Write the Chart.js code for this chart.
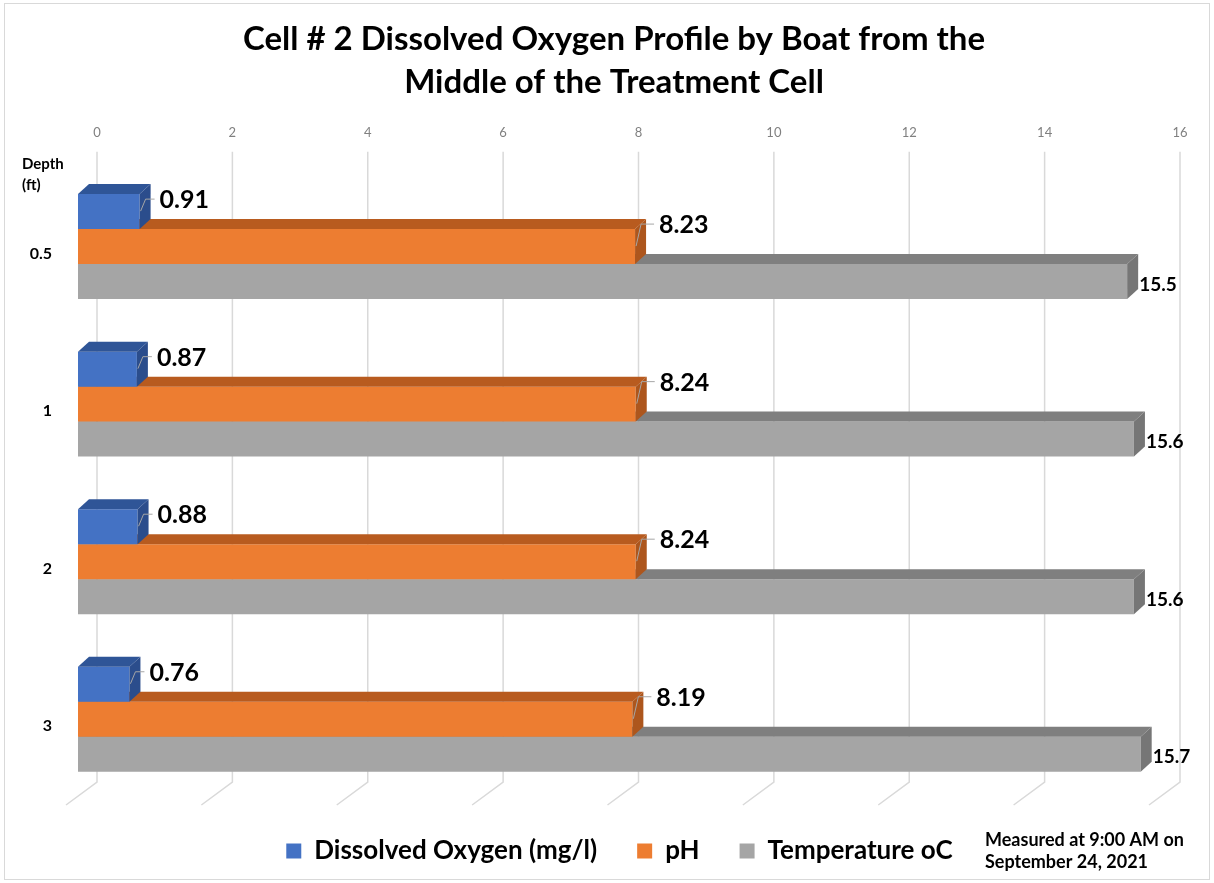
<!DOCTYPE html>
<html lang="en">
<head>
<meta charset="UTF-8">
<title>Cell # 2 Dissolved Oxygen Profile</title>
<script src="https://cdn.jsdelivr.net/npm/chart.js"></script>
<style>
  body { margin: 0; background: #fff; }
  #wrap { width: 1214px; height: 883px; }
</style>
</head>
<body>
<div id="wrap"><canvas id="chart" width="1214" height="883"></canvas></div>
<script>
// data
const depths = ['0.5', '1', '2', '3'];
const dissolvedOxygen = [0.91, 0.87, 0.88, 0.76];
const phValues = [8.23, 8.24, 8.24, 8.19];
const temperature = [15.5, 15.6, 15.6, 15.7];
const xTicks = [0, 2, 4, 6, 8, 10, 12, 14, 16];

const titleLines = ['Cell # 2 Dissolved Oxygen Profile by Boat from the', 'Middle of the Treatment Cell'];
const depthLabel = ['Depth', '(ft)'];
const noteLines = ['Measured at 9:00 AM on', 'September 24, 2021'];

const FONT = 'Lato, "Open Sans", sans-serif';
const D3 = { dx: 11, dy: -10 };   // depth of the 3d bars
const WALL = 19;                   // back wall gridlines sit this far right of the bars

// extra faces of the 3d bars
const bar3d = {
    id: 'bar3d',
    afterDatasetDraw(chart, args) {
        const ds = chart.data.datasets[args.index];
        const ctx = chart.ctx;
        args.meta.data.forEach(bar => {
            const { x, y, base, height } = bar.getProps(['x', 'y', 'base', 'height'], true);
            const top = y - height / 2, bot = y + height / 2;
            ctx.save();
            ctx.fillStyle = ds.topColor;
            ctx.beginPath();
            ctx.moveTo(base, top);
            ctx.lineTo(base + D3.dx, top + D3.dy);
            ctx.lineTo(x + D3.dx, top + D3.dy);
            ctx.lineTo(x, top);
            ctx.closePath();
            ctx.fill();
            ctx.fillStyle = ds.sideColor;
            ctx.beginPath();
            ctx.moveTo(x, top);
            ctx.lineTo(x + D3.dx, top + D3.dy);
            ctx.lineTo(x + D3.dx, bot + D3.dy);
            ctx.lineTo(x, bot);
            ctx.closePath();
            ctx.fill();
            ctx.restore();
        });
    }
};

// gridlines on the back wall + floor
const wallGrid = {
    id: 'wallGrid',
    beforeDatasetsDraw(chart) {
        const { ctx, chartArea, scales } = chart;
        ctx.save();
        ctx.strokeStyle = '#d9d9d9';
        ctx.lineWidth = 1.5;
        scales.x.ticks.forEach(t => {
            const px = scales.x.getPixelForValue(t.value) + WALL;
            ctx.beginPath();
            ctx.moveTo(px, chartArea.top - 16);
            ctx.lineTo(px, chartArea.bottom - 16);
            ctx.lineTo(px - 31, chartArea.bottom + 7);
            ctx.stroke();
        });
        ctx.restore();
    }
};

// value labels, depth label, note and outer border
const extras = {
    id: 'extras',
    afterDatasetsDraw(chart) {
        const ctx = chart.ctx;
        ctx.save();
        chart.data.datasets.forEach((ds, i) => {
            const meta = chart.getDatasetMeta(i);
            meta.data.forEach((bar, j) => {
                const { x, y, height } = bar.getProps(['x', 'y', 'height'], true);
                const top = y - height / 2;
                const txt = String(ds.data[j]);
                ctx.fillStyle = '#000';
                ctx.textBaseline = 'middle';
                ctx.textAlign = 'left';
                if (ds.leader) {
                    const ly = top + ds.labelDy;
                    const lx = x + ds.labelDx;
                    ctx.strokeStyle = '#a6a6a6';
                    ctx.lineWidth = 1;
                    ctx.beginPath();
                    ctx.moveTo(x + 1, top + 17);
                    ctx.lineTo(x + 6, ly);
                    ctx.lineTo(lx - 5, ly);
                    ctx.stroke();
                    ctx.font = 'bold 25px ' + FONT;
                    ctx.fillText(txt, lx, ly + 1);
                } else {
                    ctx.font = 'bold 19px ' + FONT;
                    ctx.fillText(txt, x + D3.dx + 1, y + 3);
                }
            });
        });
        ctx.restore();
    },
    afterDraw(chart) {
        const ctx = chart.ctx;
        ctx.save();
        ctx.fillStyle = '#000';
        ctx.textAlign = 'left';
        ctx.textBaseline = 'middle';
        ctx.font = 'bold 15px ' + FONT;
        ctx.fillText(depthLabel[0], 22, 164);
        ctx.fillText(depthLabel[1], 22, 185);
        ctx.font = 'bold 18px ' + FONT;
        ctx.fillText(noteLines[0], 985, 840);
        ctx.fillText(noteLines[1], 985, 862);
        ctx.strokeStyle = '#d9d9d9';
        ctx.lineWidth = 1;
        ctx.strokeRect(4.5, 3.5, 1205, 876);
        ctx.restore();
    }
};

new Chart(document.getElementById('chart'), {
    type: 'bar',
    data: {
        labels: depths,
        datasets: [
            { label: 'Dissolved Oxygen (mg/l)', data: dissolvedOxygen, backgroundColor: '#4472c4',
              topColor: '#2f5597', sideColor: '#2b4d8c', leader: true, labelDx: 20, labelDy: 5 },
            { label: 'pH', data: phValues, backgroundColor: '#ed7d31',
              topColor: '#b85b1f', sideColor: '#ad561d', leader: true, labelDx: 24, labelDy: -5 },
            { label: 'Temperature oC', data: temperature, backgroundColor: '#a5a5a5',
              topColor: '#7f7f7f', sideColor: '#767676', leader: false }
        ]
    },
    options: {
        indexAxis: 'y',
        responsive: false,
        animation: false,
        layout: { padding: { left: 14, right: 0, top: 0, bottom: 9 } },
        datasets: { bar: { categoryPercentage: 0.666, barPercentage: 1.0 } },
        scales: {
            x: {
                position: 'top',
                min: 0, max: 16,
                afterBuildTicks: s => { s.ticks = xTicks.map(v => ({ value: v })); },
                grid: { display: false, drawTicks: false },
                border: { display: false },
                ticks: { labelOffset: WALL, padding: 27, color: '#808080', font: { family: FONT, size: 13 } },
                afterFit: s => { s.height = 54; }
            },
            y: {
                grid: { display: false, drawTicks: false },
                border: { display: false },
                ticks: { labelOffset: 7, padding: 26, color: '#000', font: { family: FONT, size: 16, weight: 'bold' } },
                afterFit: s => { s.width = 64; }
            },
            spacer: {
                type: 'linear',
                position: 'right',
                display: true,
                grid: { display: false, drawTicks: false },
                border: { display: false },
                ticks: { display: false },
                afterFit: s => { s.width = 53; }
            }
        },
        plugins: {
            title: {
                display: true,
                text: titleLines,
                color: '#000',
                font: { family: FONT, size: 33, weight: 'bold', lineHeight: 1.3 },
                padding: { top: 18, bottom: 10 }
            },
            legend: {
                position: 'bottom',
                fullSize: false,
                labels: {
                    boxWidth: 15, boxHeight: 15, padding: 40, color: '#000',
                    font: { family: FONT, size: 26, weight: 'bold' }
                }
            },
            tooltip: { enabled: false }
        }
    },
    plugins: [wallGrid, bar3d, extras]
});
</script>
</body>
</html>
